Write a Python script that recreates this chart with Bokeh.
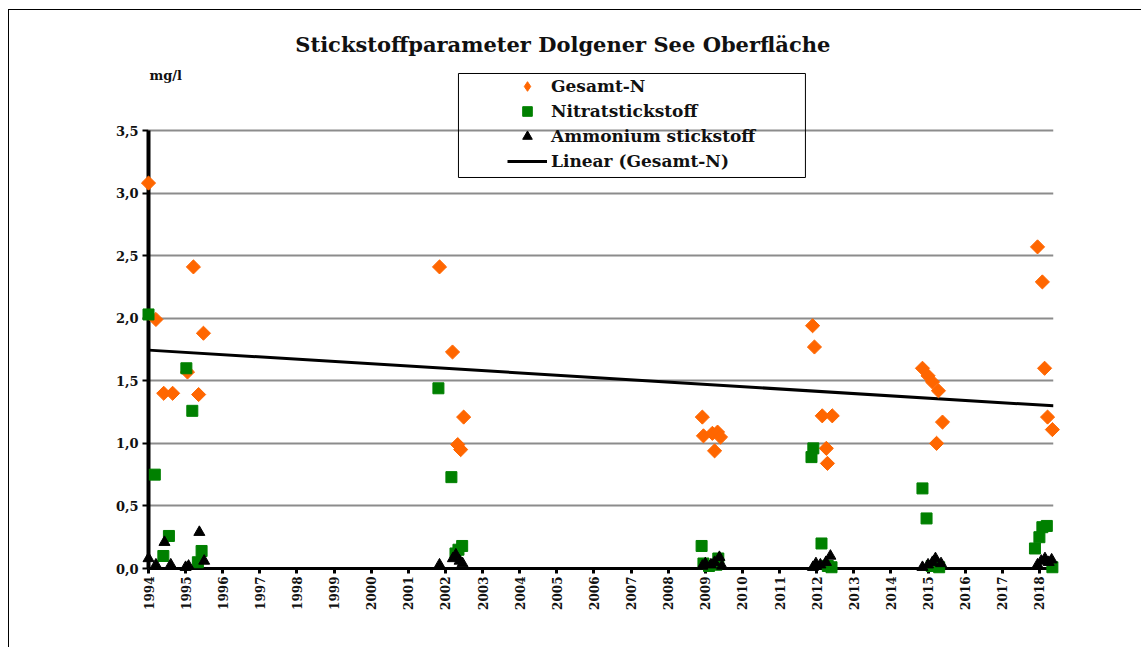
import math
from bokeh.plotting import figure
from bokeh.models import (Range1d, FixedTicker, CustomJSTickFormatter, Legend, LegendItem,
                          Label, BoxAnnotation)
from bokeh.embed import file_html
from bokeh.resources import INLINE

# ---------------- data ----------------
years = list(range(1994, 2019))
y_ticks = [0.0, 0.5, 1.0, 1.5, 2.0, 2.5, 3.0, 3.5]

gesamt_x = [1994.00, 1994.20, 1994.41, 1994.65, 1995.05, 1995.21, 1995.35, 1995.48,
            2001.84, 2002.19, 2002.33, 2002.41, 2002.49,
            2008.92, 2008.95, 2009.19, 2009.25, 2009.33, 2009.41,
            2011.89, 2011.94, 2012.15, 2012.26, 2012.29, 2012.42,
            2014.85, 2015.00, 2015.12, 2015.28, 2015.23, 2015.39,
            2017.95, 2018.08, 2018.14, 2018.22, 2018.35]
gesamt_y = [3.08, 1.99, 1.40, 1.40, 1.57, 2.41, 1.39, 1.88,
            2.41, 1.73, 0.99, 0.95, 1.21,
            1.21, 1.06, 1.08, 0.94, 1.09, 1.05,
            1.94, 1.77, 1.22, 0.96, 0.84, 1.22,
            1.60, 1.54, 1.49, 1.42, 1.00, 1.17,
            2.57, 2.29, 1.60, 1.21, 1.11]

nitrat_x = [1994.00, 1994.17, 1994.40, 1994.55, 1995.02, 1995.18, 1995.33, 1995.43,
            2001.81, 2002.16, 2002.27, 2002.35, 2002.45,
            2008.90, 2008.95, 2009.10, 2009.30, 2009.35,
            2011.91, 2011.86, 2012.13, 2012.30, 2012.40,
            2014.85, 2014.96, 2015.10, 2015.30,
            2017.88, 2018.00, 2018.08, 2018.20, 2018.35]
nitrat_y = [2.03, 0.75, 0.10, 0.26, 1.60, 1.26, 0.05, 0.14,
            1.44, 0.73, 0.12, 0.15, 0.18,
            0.18, 0.04, 0.02, 0.03, 0.08,
            0.96, 0.89, 0.20, 0.02, 0.01,
            0.64, 0.40, 0.02, 0.01,
            0.16, 0.25, 0.33, 0.34, 0.01]

ammon_x = [1994.00, 1994.20, 1994.43, 1994.60, 1995.00, 1995.08, 1995.37, 1995.50,
           2001.84, 2002.20, 2002.28, 2002.38, 2002.46,
           2008.92, 2009.00, 2009.15, 2009.25, 2009.38, 2009.45,
           2011.90, 2011.98, 2012.10, 2012.25, 2012.37,
           2014.85, 2015.00, 2015.12, 2015.20, 2015.35,
           2017.95, 2018.05, 2018.15, 2018.25, 2018.33]
ammon_y = [0.08, 0.03, 0.21, 0.03, 0.01, 0.02, 0.29, 0.06,
           0.03, 0.08, 0.11, 0.06, 0.04,
           0.02, 0.04, 0.03, 0.05, 0.09, 0.02,
           0.01, 0.04, 0.03, 0.05, 0.10,
           0.01, 0.03, 0.05, 0.08, 0.04,
           0.03, 0.06, 0.08, 0.05, 0.07]

trend_x = [1994.0, 2018.38]
trend_y = [1.745, 1.30]

FONT = "DejaVu Serif"
TXT = "#111111"
ORANGE = "#ff6600"
GREEN = "#008000"

# page pixel -> data helpers for annotation placement
def px_x(px):
    return 1994.0 + (px - 148) / 37.125

def py_y(py):
    return (568 - py) / 125.14

p = figure(width=1133, height=638, output_backend="svg", toolbar_location=None,
           x_range=Range1d(1994.0, 2018.38), y_range=Range1d(0.0, 4.379),
           min_border_left=139, min_border_right=89, min_border_top=10,
           min_border_bottom=80, background_fill_color="white",
           border_fill_color="white")
p.margin = (9, 0, 0, 8)
p.styles = {"border-left": "1px solid black", "border-top": "1px solid black"}
p.outline_line_color = None
p.xgrid.visible = False
p.ygrid.ticker = FixedTicker(ticks=y_ticks)
p.ygrid.grid_line_color = "#8c8c8c"
p.ygrid.grid_line_width = 2

# y axis
ya = p.yaxis[0]
ya.ticker = FixedTicker(ticks=y_ticks)
ya.formatter = CustomJSTickFormatter(code="return tick.toFixed(1).replace('.', ',');")
ya.bounds = (0, 3.5)
ya.axis_line_width = 4
ya.axis_line_color = "black"
ya.major_tick_out = 6
ya.major_tick_in = 0
ya.major_tick_line_width = 2
ya.minor_tick_out = 0
ya.minor_tick_in = 0
ya.major_label_standoff = 4
ya.major_label_text_font = FONT
ya.major_label_text_font_style = "bold"
ya.major_label_text_font_size = "13px"
ya.major_label_text_color = TXT

# x axis
xa = p.xaxis[0]
xa.ticker = FixedTicker(ticks=years)
xa.major_label_orientation = math.pi / 2
xa.axis_line_width = 3
xa.axis_line_color = "black"
xa.major_tick_out = 5
xa.major_tick_in = 0
xa.major_tick_line_width = 3
xa.minor_tick_out = 0
xa.minor_tick_in = 0
xa.major_label_standoff = 3
xa.major_label_text_font = FONT
xa.major_label_text_font_style = "bold"
xa.major_label_text_font_size = "12px"
xa.major_label_text_color = TXT

# legend-only diamond glyph (drawn under the first Gesamt-N point, hidden by it)
r_gl = p.scatter(gesamt_x[:1], gesamt_y[:1], marker="diamond", size=10,
                 fill_color=ORANGE, line_color=ORANGE, level="overlay")
# data
r_g = p.scatter(gesamt_x, gesamt_y, marker="square", angle=math.pi / 4, size=10,
                fill_color=ORANGE, line_color=ORANGE, level="overlay")
r_n = p.scatter(nitrat_x, nitrat_y, marker="square", size=11,
                fill_color=GREEN, line_color=GREEN, level="overlay")
r_a = p.scatter(ammon_x, ammon_y, marker="triangle", size=11,
                fill_color="black", line_color="black", level="overlay")
r_t = p.line(trend_x, trend_y, line_width=3, line_color="black")

# legend
legend = Legend(items=[LegendItem(label="Gesamt-N", renderers=[r_gl]),
                       LegendItem(label="Nitratstickstoff", renderers=[r_n]),
                       LegendItem(label="Ammonium stickstoff", renderers=[r_a]),
                       LegendItem(label="Linear (Gesamt-N)", renderers=[r_t])],
                location=(356, 392), padding=3, spacing=1, margin=0,
                glyph_width=40, glyph_height=24, label_standoff=4,
                border_line_alpha=0, background_fill_alpha=0,
                label_text_font=FONT, label_text_font_style="bold",
                label_text_font_size="17px", label_text_color=TXT)
p.add_layout(legend)
p.add_layout(BoxAnnotation(left=px_x(458), right=px_x(805), top=py_y(73), bottom=py_y(177),
                           fill_alpha=0, line_color="black", line_width=1, line_alpha=1))

# title and unit
p.add_layout(Label(x=px_x(566), y=py_y(44), text="Stickstoffparameter Dolgener See  Oberfläche",
                   text_align="center", text_baseline="middle", text_font=FONT,
                   text_font_style="bold", text_font_size="21px", text_color=TXT,
                   level="overlay"))
p.add_layout(Label(x=px_x(148), y=py_y(75), text="mg/l", text_align="left",
                   text_baseline="middle", text_font=FONT, text_font_style="bold",
                   text_font_size="13px", text_color=TXT, x_offset=1, level="overlay"))

open("out.html", "w").write(file_html(p, INLINE))
